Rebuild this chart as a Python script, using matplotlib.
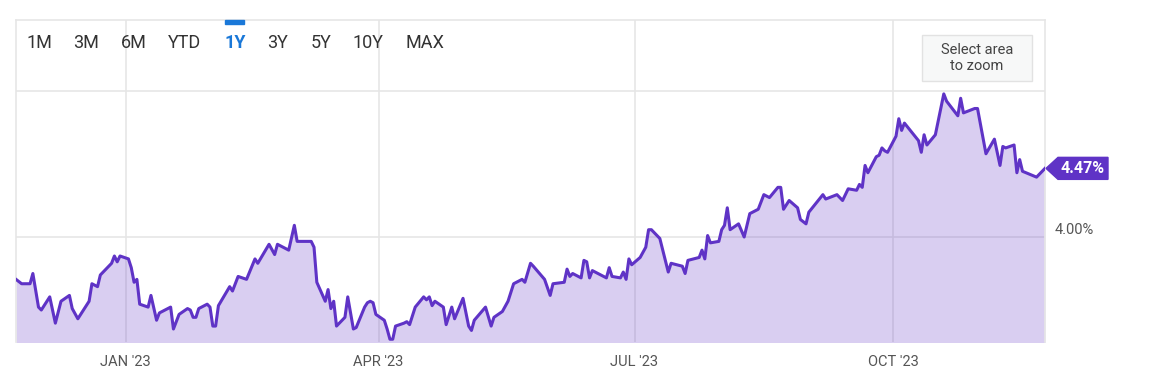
import numpy as np
import pandas as pd
import matplotlib
matplotlib.use("Agg")
import matplotlib.pyplot as plt
import matplotlib.dates as mdates
import matplotlib.transforms as mtransforms
from matplotlib.patches import Polygon, Rectangle

plt.rcParams['font.family'] = ['Roboto', 'DejaVu Sans']

# 10 year treasury yield (in %)
dates = [
    "2022-11-23", "2022-11-25", "2022-11-28", "2022-11-29",
    "2022-12-01", "2022-12-02", "2022-12-05", "2022-12-07", "2022-12-09", "2022-12-12",
    "2022-12-13", "2022-12-15", "2022-12-19", "2022-12-20", "2022-12-22", "2022-12-23",
    "2022-12-27", "2022-12-28", "2022-12-29", "2022-12-30",
    "2023-01-02", "2023-01-03", "2023-01-04", "2023-01-05", "2023-01-06", "2023-01-09",
    "2023-01-10", "2023-01-12", "2023-01-13", "2023-01-17", "2023-01-18", "2023-01-20",
    "2023-01-23", "2023-01-24", "2023-01-25", "2023-01-26", "2023-01-27", "2023-01-30",
    "2023-01-31",
    "2023-02-01", "2023-02-02", "2023-02-03", "2023-02-07", "2023-02-08", "2023-02-10",
    "2023-02-13", "2023-02-16", "2023-02-17", "2023-02-21", "2023-02-23", "2023-02-24",
    "2023-02-28",
    "2023-03-02", "2023-03-03", "2023-03-06", "2023-03-07", "2023-03-08", "2023-03-09",
    "2023-03-10", "2023-03-13", "2023-03-14", "2023-03-15", "2023-03-16", "2023-03-17",
    "2023-03-20", "2023-03-21", "2023-03-23", "2023-03-24", "2023-03-27", "2023-03-28",
    "2023-03-29", "2023-03-30", "2023-03-31",
    "2023-04-03", "2023-04-04", "2023-04-05", "2023-04-06", "2023-04-07", "2023-04-10",
    "2023-04-11", "2023-04-12", "2023-04-14", "2023-04-17", "2023-04-18", "2023-04-19",
    "2023-04-20", "2023-04-21", "2023-04-24", "2023-04-25", "2023-04-27", "2023-04-28",
    "2023-05-01", "2023-05-03", "2023-05-04", "2023-05-05", "2023-05-09", "2023-05-11",
    "2023-05-12", "2023-05-15", "2023-05-17", "2023-05-19", "2023-05-22", "2023-05-23",
    "2023-05-25", "2023-05-26", "2023-05-30",
    "2023-06-01", "2023-06-02", "2023-06-06", "2023-06-07", "2023-06-08", "2023-06-09",
    "2023-06-12", "2023-06-13", "2023-06-14", "2023-06-15", "2023-06-16", "2023-06-21",
    "2023-06-22", "2023-06-23", "2023-06-26", "2023-06-27", "2023-06-28", "2023-06-29",
    "2023-06-30",
    "2023-07-03", "2023-07-05", "2023-07-06", "2023-07-07", "2023-07-10", "2023-07-13",
    "2023-07-14", "2023-07-18", "2023-07-19", "2023-07-20", "2023-07-24", "2023-07-25",
    "2023-07-26", "2023-07-27", "2023-07-28", "2023-07-31",
    "2023-08-01", "2023-08-02", "2023-08-03", "2023-08-04", "2023-08-07", "2023-08-09",
    "2023-08-11", "2023-08-14", "2023-08-16", "2023-08-18", "2023-08-21", "2023-08-22",
    "2023-08-23", "2023-08-25", "2023-08-28", "2023-08-29", "2023-08-31",
    "2023-09-01", "2023-09-06", "2023-09-07", "2023-09-11", "2023-09-13", "2023-09-15",
    "2023-09-18", "2023-09-19", "2023-09-20", "2023-09-21", "2023-09-22", "2023-09-25",
    "2023-09-26", "2023-09-27", "2023-09-28", "2023-09-29",
    "2023-10-02", "2023-10-03", "2023-10-04", "2023-10-05", "2023-10-10", "2023-10-11",
    "2023-10-12", "2023-10-13", "2023-10-16", "2023-10-19", "2023-10-20", "2023-10-24",
    "2023-10-25", "2023-10-26", "2023-10-30", "2023-10-31",
    "2023-11-03", "2023-11-06", "2023-11-08", "2023-11-09", "2023-11-10", "2023-11-13",
    "2023-11-14", "2023-11-15", "2023-11-16", "2023-11-21", "2023-11-24",
]
yields = [
    3.71, 3.68, 3.68, 3.75,
    3.52, 3.50, 3.59, 3.41, 3.56, 3.60,
    3.51, 3.44, 3.56, 3.68, 3.66, 3.74,
    3.82, 3.87, 3.83, 3.87,
    3.85, 3.79, 3.69, 3.71, 3.54, 3.52,
    3.60, 3.43, 3.48, 3.52, 3.37, 3.47,
    3.51, 3.50, 3.45, 3.45, 3.51, 3.54,
    3.52,
    3.39, 3.39, 3.53, 3.66, 3.63, 3.73,
    3.71, 3.85, 3.82, 3.95, 3.88, 3.95,
    3.91,
    4.08, 3.97, 3.97, 3.97, 3.97, 3.93,
    3.69, 3.56, 3.64, 3.51, 3.56, 3.39,
    3.45, 3.59, 3.37, 3.38, 3.52, 3.55,
    3.56, 3.55, 3.47,
    3.43, 3.37, 3.30, 3.30, 3.39, 3.41,
    3.42, 3.40, 3.52, 3.59, 3.57, 3.59,
    3.53, 3.56, 3.52, 3.40, 3.52, 3.44,
    3.58, 3.39, 3.36, 3.43, 3.52, 3.39,
    3.45, 3.49, 3.56, 3.68, 3.71, 3.69,
    3.82, 3.80, 3.71,
    3.60, 3.68, 3.69, 3.78, 3.73, 3.75,
    3.72, 3.84, 3.83, 3.72, 3.77, 3.72,
    3.79, 3.73, 3.72, 3.76, 3.71, 3.85,
    3.81,
    3.86, 3.93, 4.05, 4.05, 3.99, 3.76,
    3.82, 3.80, 3.75, 3.84, 3.86, 3.91,
    3.85, 4.01, 3.96, 3.97,
    4.05, 4.08, 4.20, 4.05, 4.09, 4.00,
    4.16, 4.19, 4.29, 4.27, 4.34, 4.34,
    4.19, 4.25, 4.20, 4.12, 4.09,
    4.17, 4.29, 4.26, 4.29, 4.25, 4.33,
    4.32, 4.36, 4.34, 4.49, 4.44, 4.55,
    4.56, 4.61, 4.59, 4.58,
    4.69, 4.81, 4.73, 4.78, 4.66, 4.58,
    4.70, 4.63, 4.70, 4.98, 4.93, 4.83,
    4.95, 4.85, 4.88, 4.88,
    4.57, 4.67, 4.49, 4.62, 4.61, 4.63,
    4.44, 4.53, 4.45, 4.41, 4.47,
]
assert len(dates) == len(yields)

range_buttons = ["1M", "3M", "6M", "YTD", "1Y", "3Y", "5Y", "10Y", "MAX"]
button_x = [39, 86, 134, 185, 235, 278, 321, 368, 425]   # pixel centres
active_button = "1Y"

y_ticks = [4.0, 5.0]
y_tick_labels = ["4.00%", ""]

line_color = "#5f33c6"
fill_color = "#6a3cc8"
grid_color = "#e6e6e6"
text_gray = "#555555"

t = pd.to_datetime(dates)
v = np.array(yields)

W, H = 1170, 378
fig = plt.figure(figsize=(W / 100, H / 100), dpi=100)
ax = fig.add_axes([16 / W, 1 - 342 / H, (1045 - 16) / W, (342 - 20) / H])

ax.fill_between(t, v, 3.0, color=fill_color, alpha=0.25, lw=0, zorder=1)
ax.plot(t, v, color=line_color, lw=2.2, zorder=3)

ax.set_xlim(t[0], t[-1])
ax.set_ylim(3.281, 5.486)

ax.xaxis.set_major_locator(mdates.MonthLocator(bymonth=[1, 4, 7, 10]))
ax.xaxis.set_major_formatter(
    plt.FuncFormatter(lambda x, p: mdates.num2date(x).strftime("%b '%y").upper()))
ax.set_yticks(y_ticks)
ax.set_yticklabels(y_tick_labels)
ax.yaxis.tick_right()
ax.tick_params(axis='x', length=0, pad=9, labelsize=10.5, labelcolor=text_gray)
ax.tick_params(axis='y', length=0, pad=7, labelsize=10.5, labelcolor=text_gray)
for lab in ax.get_yticklabels():
    lab.set_va('bottom')

ax.set_axisbelow(True)
ax.grid(True, color=grid_color, lw=1.2)
for side in ['left', 'top', 'right']:
    ax.spines[side].set_color(grid_color)
    ax.spines[side].set_linewidth(1.2)
ax.spines['bottom'].set_visible(False)

# range selector buttons
for name, bx in zip(range_buttons, button_x):
    active = name == active_button
    fig.text(bx / W, 1 - 43 / H, name, ha='center', va='center', fontsize=13,
             color="#1a78d8" if active else "#333333",
             fontweight='bold' if active else 'normal')
fig.patches.append(Rectangle((225 / W, 1 - 24 / H), 19 / W, 4 / H,
                             transform=fig.transFigure, color="#1a78d8"))

# "Select area to zoom" box
fig.patches.append(Rectangle((922 / W, 1 - 81 / H), 110 / W, 46 / H,
                             transform=fig.transFigure, facecolor="#f7f8f8",
                             edgecolor="#e2e2e2", lw=1))
fig.text(977 / W, 1 - 58 / H, "Select area\nto zoom", ha='center', va='center',
         fontsize=10.5, color="#444444", linespacing=1.25)

# last value tag
trans = fig.dpi_scale_trans + mtransforms.ScaledTranslation(
    mdates.date2num(t[-1]), v[-1], ax.transData)
tag = Polygon([(0.01, 0), (0.13, 0.11), (0.63, 0.11), (0.63, -0.11), (0.13, -0.11)],
              closed=True, transform=trans, color=line_color, clip_on=False, zorder=5)
ax.add_patch(tag)
ax.text(0.38, 0, "%.2f%%" % v[-1], transform=trans, ha='center', va='center',
        color='white', fontsize=11.5, fontweight='bold', clip_on=False, zorder=6)

fig.savefig("out.png", dpi=100)
